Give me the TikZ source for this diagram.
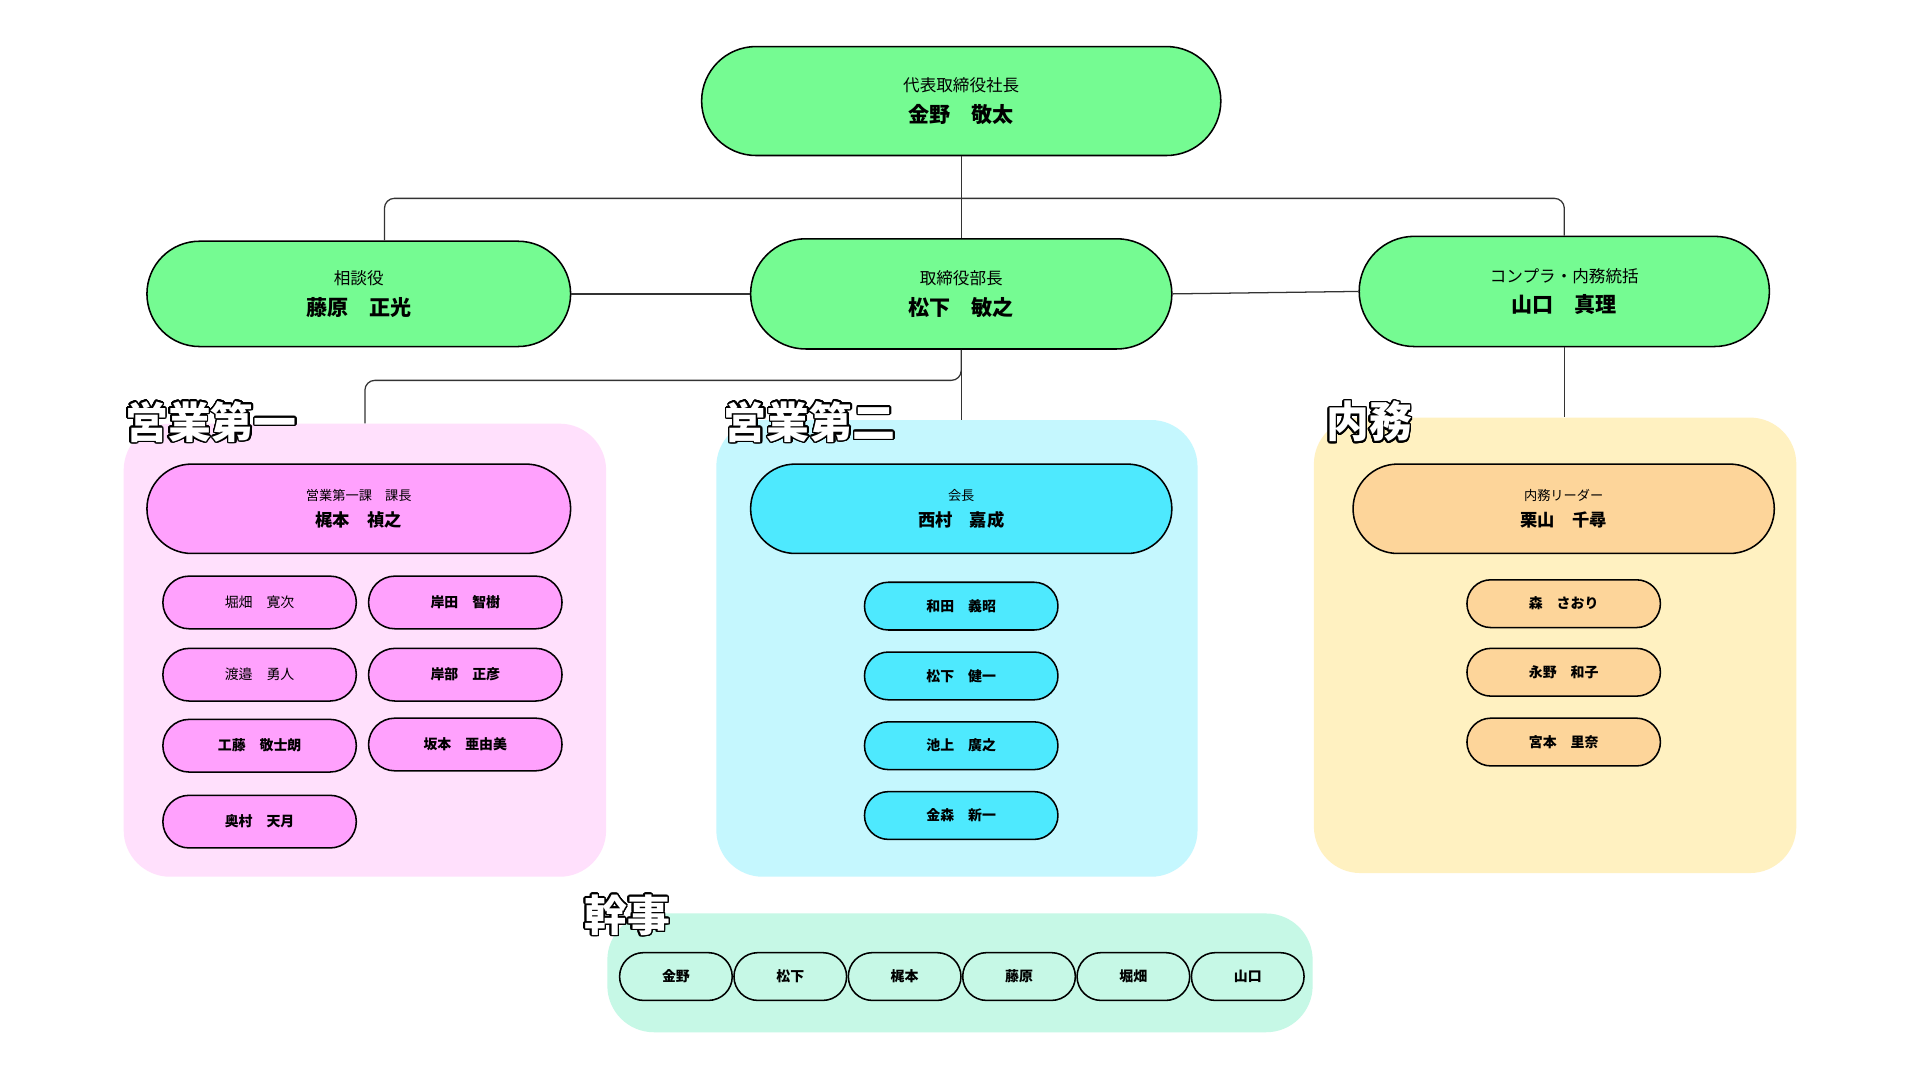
\documentclass[tikz,border=0pt]{standalone}
\usepackage{fontspec}
\setmainfont{Noto Sans CJK JP}
\usepackage[copies]{contour}
\contourlength{1.1pt}
\contournumber{24}
\usetikzlibrary{positioning}

\definecolor{execgreen}{RGB}{117,251,146}
\definecolor{salesonepink}{RGB}{255,161,253}
\definecolor{salesonebg}{RGB}{255,224,252}
\definecolor{salestwocyan}{RGB}{78,233,254}
\definecolor{salestwobg}{RGB}{197,247,254}
\definecolor{officepeach}{RGB}{253,213,154}
\definecolor{officebg}{RGB}{255,241,193}
\definecolor{secretarybg}{RGB}{198,248,230}

\newcommand\pxu{0.30612mm}
\newcommand\roletext{\fontsize{11.8}{14}\selectfont}
\newcommand\nametext{\fontsize{15}{18}\selectfont\bfseries}
\newcommand\leadrole{\fontsize{9.4}{11}\selectfont}
\newcommand\leadname{\fontsize{12.3}{15}\selectfont\bfseries}
\newcommand\membertext{\fontsize{9.9}{12}\selectfont}
\newcommand\titletext{\fontsize{30.5}{32}\selectfont\bfseries}

\tikzset{
  pill/.style 2 args={draw=black, line width=1.1pt, inner sep=0pt, align=center,
    minimum width=#1*\pxu, minimum height=#2*\pxu, rounded corners=#2*\pxu/2},
  area/.style={inner sep=0pt, rounded corners=38*\pxu},
  areatitle/.style={anchor=west, inner sep=0pt, text=white, font=\titletext},
  conn/.style={draw=black!80, line width=0.9pt},
}

\begin{document}
\begin{tikzpicture}[x=0.30612mm, y=-0.30612mm]
  \fill[white] (0,0) rectangle (1568,882);
  \useasboundingbox (0,0) rectangle (1568,882);

  % department areas
  \node[area, fill=salesonebg, minimum width=394*\pxu, minimum height=370*\pxu] (salesone) at (298,531) {};
  \node[area, fill=salestwobg, minimum width=393*\pxu, minimum height=373*\pxu] (salestwo) at (781.5,529.5) {};
  \node[area, fill=officebg, minimum width=394*\pxu, minimum height=372*\pxu] (office) at (1270,527) {};
  \node[area, fill=secretarybg, minimum width=576*\pxu, minimum height=97*\pxu] (secretary) at (784,794.5) {};

  % executives
  \node[pill={424}{89}, fill=execgreen] (ceo) at (785,82.5) {\roletext 代表取締役社長\\[7pt]\nametext 金野　敬太};
  \node[pill={346}{86}, fill=execgreen] (advisor) at (293,240) {\roletext 相談役\\[7pt]\nametext 藤原　正光};
  \node[pill={344}{90}, fill=execgreen] (director) at (785,240) {\roletext 取締役部長\\[7pt]\nametext 松下　敏之};
  \node[pill={335}{90}, fill=execgreen] (compliance) at (1277.5,238) {\roletext コンプラ・内務統括\\[7pt]\nametext 山口　真理};

  % connectors
  \coordinate (bus) at (785,162);
  \draw[conn] (ceo) -- (director);
  \draw[conn, rounded corners=7pt] ([xshift=21*\pxu]advisor.north) |- (bus) -| (compliance.north);
  \draw[conn] (advisor) -- (director);
  \draw[conn] (director.east) -- (compliance.west);
  \draw[conn] (director.south) -- (director.south |- salestwo.north);
  \draw[conn, rounded corners=7pt] (director.south) -- ++(0,25) -| (salesone.north);
  \draw[conn] (compliance.south) -- (compliance.south |- office.north);

  % sales 1
  \node[areatitle] (salesonetitle) at (102,345) {\contour{black}{営業第一}};
  \node[pill={346}{73}, fill=salesonepink] (kajimoto) at (293,415.5) {\leadrole 営業第一課　課長\\[6pt]\leadname 梶本　禎之};
  \node[pill={158}{43}, fill=salesonepink, font=\membertext] (horihata) at (212,492) {堀畑　寛次};
  \node[pill={158}{43}, fill=salesonepink, font=\membertext\bfseries] (kishida) at (380,492) {岸田　智樹};
  \node[pill={158}{43}, fill=salesonepink, font=\membertext] (watanabe) at (212,551) {渡邉　勇人};
  \node[pill={158}{43}, fill=salesonepink, font=\membertext\bfseries] (kishibe) at (380,551) {岸部　正彦};
  \node[pill={158}{43}, fill=salesonepink, font=\membertext\bfseries] (kudo) at (212,609) {工藤　敬士朗};
  \node[pill={158}{43}, fill=salesonepink, font=\membertext\bfseries] (sakamoto) at (380,608) {坂本　亜由美};
  \node[pill={158}{43}, fill=salesonepink, font=\membertext\bfseries] (okumura) at (212,671) {奥村　天月};

  % sales 2
  \node[areatitle] (salestwotitle) at (591,345) {\contour{black}{営業第二}};
  \node[pill={344}{73}, fill=salestwocyan] (nishimura) at (785,415.5) {\leadrole 会長\\[6pt]\leadname 西村　嘉成};
  \node[pill={158}{39}, fill=salestwocyan, font=\membertext\bfseries] (wada) at (785,495) {和田　義昭};
  \node[pill={158}{39}, fill=salestwocyan, font=\membertext\bfseries] (matsushita) at (785,552) {松下　健一};
  \node[pill={158}{39}, fill=salestwocyan, font=\membertext\bfseries] (ikegami) at (785,609) {池上　廣之};
  \node[pill={158}{39}, fill=salestwocyan, font=\membertext\bfseries] (kanamori) at (785,666) {金森　新一};

  % office
  \node[areatitle] (officetitle) at (1083,345) {\contour{black}{内務}};
  \node[pill={344}{73}, fill=officepeach] (kuriyama) at (1277,415.5) {\leadrole 内務リーダー\\[6pt]\leadname 栗山　千尋};
  \node[pill={158}{39}, fill=officepeach, font=\membertext\bfseries] (mori) at (1277,493) {森　さおり};
  \node[pill={158}{39}, fill=officepeach, font=\membertext\bfseries] (nagano) at (1277,549) {永野　和子};
  \node[pill={158}{39}, fill=officepeach, font=\membertext\bfseries] (miyamoto) at (1277,606) {宮本　里奈};

  % secretaries
  \node[areatitle] (secretarytitle) at (477,748) {\contour{black}{幹事}};
  \foreach \who [count=\i from 0] in {金野,松下,梶本,藤原,堀畑,山口}
    \node[pill={92}{39}, font=\membertext\bfseries] (sec\i) at (552+93.4*\i,797.5) {\who};
\end{tikzpicture}
\end{document}
